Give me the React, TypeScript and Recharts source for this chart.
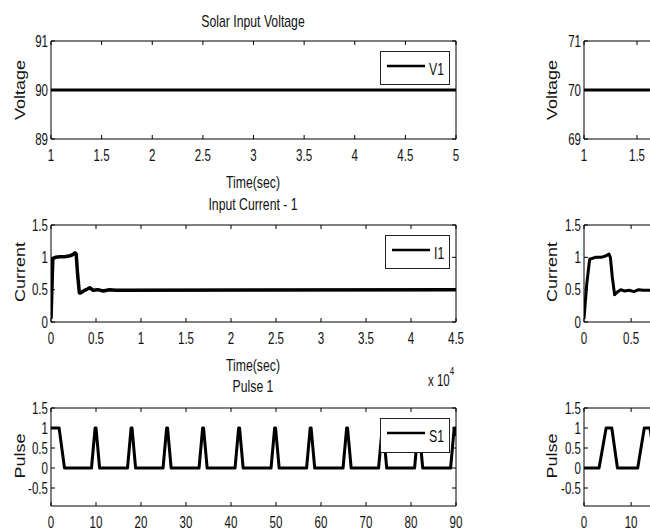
import React from 'react';
import { LineChart, Line, XAxis, YAxis, Legend } from 'recharts';

// ---------------- data ----------------
const voltageTime = [1, 2, 3, 4, 5];
const voltageV1 = [90, 90, 90, 90, 90];
const voltageV2 = [70, 70, 70, 70, 70];

// samples (x axis shown in units of 10^4)
const currentTime1 = [0, 200, 500, 1000, 1500, 2000, 2400, 2650, 2800, 2950, 3150, 3300, 3600, 3900, 4300, 4700, 5200, 5800, 6500, 7200, 45000];
const currentI1 = [0.05, 0.98, 1.0, 1.01, 1.01, 1.02, 1.04, 1.07, 1.05, 0.75, 0.45, 0.45, 0.48, 0.5, 0.53, 0.49, 0.5, 0.48, 0.5, 0.49, 0.5];
const currentTime2 = [0, 300, 600, 1200, 1800, 2300, 2650, 2800, 3000, 3250, 3500, 3900, 4300, 4800, 5300, 5800, 6300, 7000, 8000, 45000];
const currentI2 = [0.05, 0.6, 0.97, 1.0, 1.0, 1.02, 1.05, 1.0, 0.7, 0.42, 0.46, 0.5, 0.48, 0.49, 0.47, 0.5, 0.49, 0.49, 0.5, 0.5];

const pulseTime1 = [0, 1.8, 3.0, 9.0, 9.8, 10.0, 10.8, 17.0, 17.8, 18.0, 18.8, 24.9, 25.7, 25.9, 26.7, 32.9, 33.7, 33.9, 34.7, 40.9, 41.7, 41.9, 42.7, 48.9, 49.7, 49.9, 50.7, 56.8, 57.6, 57.8, 58.6, 64.9, 65.7, 65.9, 66.7, 72.8, 73.6, 73.8, 74.6, 80.8, 81.6, 81.8, 82.6, 88.8, 89.6, 89.8, 90];
const pulseS1 = [1, 1, 0, 0, 1, 1, 0, 0, 1, 1, 0, 0, 1, 1, 0, 0, 1, 1, 0, 0, 1, 1, 0, 0, 1, 1, 0, 0, 1, 1, 0, 0, 1, 1, 0, 0, 1, 1, 0, 0, 1, 1, 0, 0, 1, 1, 0.8];
const pulseTime2 = [0, 3.2, 4.7, 5.9, 7.1, 11.4, 12.8, 14.0, 15.3, 19.4, 20.8, 22.0, 23.3];
const pulseS2 = [0, 0, 1, 1, 0, 0, 1, 1, 0, 0, 1, 1, 0];

const voltageXTicks = [1, 1.5, 2, 2.5, 3, 3.5, 4, 4.5, 5];
const voltageYTicks1 = [89, 90, 91];
const voltageYTicks2 = [69, 70, 71];
const currentXTicks = [0, 5000, 10000, 15000, 20000, 25000, 30000, 35000, 40000, 45000];
const currentYTicks = [0, 0.5, 1, 1.5];
const pulseXTicks = [0, 10, 20, 30, 40, 50, 60, 70, 80, 90];
const pulseYTicks = [-0.5, 0, 0.5, 1, 1.5];

// ---------------- styling ----------------
const FONT = '"Liberation Sans", Arial, Helvetica, sans-serif';
const TICK_FS = 16.5;
const TICK_SX = 0.7;
const TICK_LEN = 4;
const H = 531;
const PAGE_W = 650;

const toRows = (xs: number[], ys: number[]) => xs.map((x, i) => ({ x, y: ys[i] }));

const bottomTick = (fmt?: (v: number) => string) => (p: any) => {
  const { x, y, payload } = p;
  const label = fmt ? fmt(payload.value) : String(payload.value);
  const visible = x + 8 < PAGE_W;
  return (
    <g>
      <line x1={x} x2={x} y1={y} y2={y - TICK_LEN} stroke="#000" strokeWidth={1} />
      {visible && (
        <text transform={`translate(${x},${y + 16}) scale(${TICK_SX},1)`} textAnchor="middle" dominantBaseline="central" fontSize={TICK_FS} fontFamily={FONT} fill="#111">{label}</text>
      )}
    </g>
  );
};
const topTick = (p: any) => (
  <line x1={p.x} x2={p.x} y1={p.y} y2={p.y + TICK_LEN} stroke="#000" strokeWidth={1} />
);
const leftTick = (p: any) => {
  const { x, y, payload } = p;
  return (
    <g>
      <line x1={x} x2={x + TICK_LEN} y1={y} y2={y} stroke="#000" strokeWidth={1} />
      <text transform={`translate(${x - 3},${y}) scale(${TICK_SX},1)`} textAnchor="end" dominantBaseline="central" fontSize={TICK_FS} fontFamily={FONT} fill="#111">{String(payload.value)}</text>
    </g>
  );
};
const rightTick = (p: any) => (
  <line x1={p.x} x2={p.x - TICK_LEN} y1={p.y} y2={p.y} stroke="#000" strokeWidth={1} />
);

type LegendCfg = { label: string; left: number; top: number; w: number; h: number };

const LegendBox = ({ cfg }: { cfg: LegendCfg }) => (
  <svg width={cfg.w} height={cfg.h} style={{ display: 'block' }}>
    <rect x={0.5} y={0.5} width={cfg.w - 1} height={cfg.h - 1} fill="#fff" stroke="#222" strokeWidth={1} />
    <line x1={7} x2={45} y1={15} y2={15} stroke="#000" strokeWidth={2.5} />
    <text transform={`translate(49,18) scale(0.72,1)`} dominantBaseline="central" fontSize={17} fontFamily={FONT} fill="#111">{cfg.label}</text>
  </svg>
);

type SubplotProps = {
  rows: { x: number; y: number }[];
  xDomain: [number, number];
  yDomain: [number, number];
  xTicks: number[];
  yTicks: number[];
  xFmt?: (v: number) => string;
  plotLeft: number;
  plotWidth: number;
  plotTop: number;
  plotBottom: number;
  legend?: LegendCfg;
  lineWidth: number;
};

function Subplot(p: SubplotProps) {
  const W = p.plotLeft + p.plotWidth + 20;
  return (
    <div style={{ position: 'absolute', left: 0, top: 0 }}>
      <LineChart
        width={W}
        height={H}
        data={p.rows}
        margin={{ left: p.plotLeft - 1, right: W - p.plotLeft - p.plotWidth - 1, top: p.plotTop - 1, bottom: H - p.plotBottom - 1 }}
      >
        <XAxis xAxisId="b" dataKey="x" type="number" domain={p.xDomain} ticks={p.xTicks} allowDataOverflow interval={0}
          orientation="bottom" height={1} tickSize={0} tickMargin={0} tickLine={false}
          axisLine={{ stroke: '#000', strokeWidth: 1 }} tick={bottomTick(p.xFmt)} />
        <XAxis xAxisId="t" dataKey="x" type="number" domain={p.xDomain} ticks={p.xTicks} allowDataOverflow interval={0}
          orientation="top" height={1} tickSize={0} tickMargin={0} tickLine={false}
          axisLine={{ stroke: '#000', strokeWidth: 1 }} tick={topTick} />
        <YAxis yAxisId="l" type="number" domain={p.yDomain} ticks={p.yTicks} allowDataOverflow interval={0}
          orientation="left" width={1} tickSize={0} tickMargin={0} tickLine={false}
          axisLine={{ stroke: '#000', strokeWidth: 1 }} tick={leftTick} />
        <YAxis yAxisId="r" type="number" domain={p.yDomain} ticks={p.yTicks} allowDataOverflow interval={0}
          orientation="right" width={1} tickSize={0} tickMargin={0} tickLine={false}
          axisLine={{ stroke: '#000', strokeWidth: 1 }} tick={rightTick} />
        <Line xAxisId="b" yAxisId="l" type="linear" dataKey="y" stroke="#000" strokeWidth={p.lineWidth}
          strokeLinejoin="round" dot={false} activeDot={false} isAnimationActive={false} />
        {p.legend && (
          <Legend
            layout="horizontal"
            verticalAlign="middle"
            align="center"
            wrapperStyle={{ position: 'absolute', left: p.legend.left, top: p.legend.top, width: p.legend.w, height: p.legend.h }}
            content={() => <LegendBox cfg={p.legend as LegendCfg} />}
          />
        )}
      </LineChart>
    </div>
  );
}

const TextLabel = ({ text, cx, cy, fs = 17, sx = 0.72, rotate = false }: { text: string; cx: number; cy: number; fs?: number; sx?: number; rotate?: boolean }) => (
  <div
    style={{
      position: 'absolute',
      left: cx,
      top: cy,
      fontFamily: FONT,
      fontSize: fs,
      lineHeight: 1,
      whiteSpace: 'nowrap',
      color: '#111',
      transform: `translate(-50%,-50%) scaleX(${sx})${rotate ? ' rotate(-90deg)' : ''}`,
    }}
  >
    {text}
  </div>
);

const LEFT = { plotLeft: 51, plotWidth: 405 };
const RIGHT = { plotLeft: 584, plotWidth: 424 };
const P1 = { plotTop: 41, plotBottom: 139 };
const P2 = { plotTop: 225, plotBottom: 322 };
const P3 = { plotTop: 408, plotBottom: 506 };
const fmt4 = (v: number) => String(v / 10000);

export default function App() {
  return (
    <div style={{ position: 'fixed', left: 0, top: 0, width: PAGE_W, height: H, overflow: 'hidden', background: '#fff' }}>
      {/* left column */}
      <Subplot rows={toRows(voltageTime, voltageV1)} xDomain={[1, 5]} yDomain={[89, 91]} xTicks={voltageXTicks} yTicks={voltageYTicks1}
        {...LEFT} {...P1} lineWidth={3} legend={{ label: 'V1', left: 380, top: 51, w: 70, h: 34 }} />
      <Subplot rows={toRows(currentTime1, currentI1)} xDomain={[0, 45000]} yDomain={[0, 1.5]} xTicks={currentXTicks} yTicks={currentYTicks} xFmt={fmt4}
        {...LEFT} {...P2} lineWidth={3.5} legend={{ label: 'I1', left: 385, top: 235, w: 65, h: 34 }} />
      <Subplot rows={toRows(pulseTime1, pulseS1)} xDomain={[0, 90]} yDomain={[-0.95, 1.5]} xTicks={pulseXTicks} yTicks={pulseYTicks}
        {...LEFT} {...P3} lineWidth={3} legend={{ label: 'S1', left: 380, top: 418, w: 70, h: 35 }} />

      {/* right column (partially visible) */}
      <Subplot rows={toRows(voltageTime, voltageV2)} xDomain={[1, 5]} yDomain={[69, 71]} xTicks={voltageXTicks} yTicks={voltageYTicks2}
        {...RIGHT} {...P1} lineWidth={3} />
      <Subplot rows={toRows(currentTime2, currentI2)} xDomain={[0, 45000]} yDomain={[0, 1.5]} xTicks={currentXTicks} yTicks={currentYTicks} xFmt={fmt4}
        {...RIGHT} {...P2} lineWidth={3} />
      <Subplot rows={toRows(pulseTime2, pulseS2)} xDomain={[0, 90]} yDomain={[-0.95, 1.5]} xTicks={pulseXTicks} yTicks={pulseYTicks}
        {...RIGHT} {...P3} lineWidth={3} />

      {/* titles and axis labels */}
      <TextLabel text="Solar Input Voltage" cx={253} cy={21} />
      <TextLabel text="Time(sec)" cx={253} cy={182} />
      <TextLabel text="Input Current - 1" cx={253} cy={204} />
      <TextLabel text="Time(sec)" cx={253} cy={365} />
      <TextLabel text="Pulse 1" cx={253} cy={386} />
      <div style={{ position: 'absolute', left: 428, top: 373, fontFamily: FONT, fontSize: 16, lineHeight: 1, whiteSpace: 'nowrap', color: '#111', transform: 'scaleX(0.72)', transformOrigin: 'left top' }}>
        x 10<sup style={{ fontSize: 11, verticalAlign: 'top', position: 'relative', top: -7 }}>4</sup>
      </div>

      <TextLabel text="Voltage" cx={20} cy={90} fs={18} sx={0.78} rotate />
      <TextLabel text="Current" cx={20} cy={272} fs={18} sx={0.78} rotate />
      <TextLabel text="Pulse" cx={20} cy={456} fs={18} sx={0.78} rotate />
      <TextLabel text="Voltage" cx={552} cy={90} fs={18} sx={0.78} rotate />
      <TextLabel text="Current" cx={552} cy={272} fs={18} sx={0.78} rotate />
      <TextLabel text="Pulse" cx={552} cy={456} fs={18} sx={0.78} rotate />
    </div>
  );
}
